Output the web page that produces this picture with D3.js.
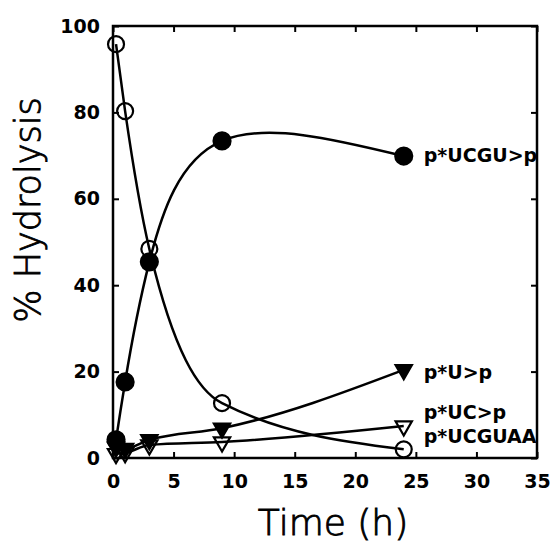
<!DOCTYPE html>
<html><head><meta charset="utf-8">
<script src="https://cdn.jsdelivr.net/npm/d3@7"></script>
<style>body{margin:0;background:#fff}</style>
</head><body>
<svg id="c" width="550" height="542"></svg>
<script>
// ---- data ----
const times = [0.25, 1, 3, 9, 24];
const ucguP   = [4.2, 17.6, 45.4, 73.4, 69.9];   // filled circles  p*UCGU>p
const ucguaa  = [95.8, 80.3, 48.4, 12.7, 2.0];   // open circles    p*UCGUAA
const uP      = [2.5, 2.2, 4.2, 6.9, 20.4];      // filled triangles p*U>p
const ucP     = [1.0, 1.2, 3.0, 3.7, 7.4];       // open triangles  p*UC>p
const xTicks = [0, 5, 10, 15, 20, 25, 30, 35];
const yTicks = [0, 20, 40, 60, 80, 100];
const labels = ["p*UCGU>p", "p*U>p", "p*UC>p", "p*UCGUAA"];
const labelY = [70, 19.9, 10.6, 4.9];

const svg = d3.select("#c");
const x = d3.scaleLinear().domain([0, 35]).range([113, 537]);
const y = d3.scaleLinear().domain([0, 100]).range([458, 26]);

const font = "'DejaVu Sans', sans-serif";

// axes
const gB = svg.append("g").attr("transform", `translate(0,${y(0)})`)
  .call(d3.axisBottom(x).tickValues(xTicks).tickSizeInner(-6).tickSizeOuter(0).tickPadding(17));
const gL = svg.append("g").attr("transform", `translate(${x(0)},0)`)
  .call(d3.axisLeft(y).tickValues(yTicks).tickSizeInner(-6).tickSizeOuter(0).tickPadding(13));
const gT = svg.append("g").attr("transform", `translate(0,${y(100)})`)
  .call(d3.axisTop(x).tickValues(xTicks).tickSizeInner(-6).tickSizeOuter(0).tickFormat(""));
const gR = svg.append("g").attr("transform", `translate(${x(35)},0)`)
  .call(d3.axisRight(y).tickValues(yTicks).tickSizeInner(-6).tickSizeOuter(0).tickFormat(""));
[gB, gL, gT, gR].forEach(g => {
  g.select(".domain").remove();
  g.selectAll(".tick line").attr("stroke", "#000").attr("stroke-width", 2);
  g.selectAll("text").attr("fill", "#000").attr("font-family", font)
    .attr("font-size", 19).attr("font-weight", "bold");
});

// frame
svg.append("rect").attr("x", x(0)).attr("y", y(100))
  .attr("width", x(35) - x(0)).attr("height", y(0) - y(100))
  .attr("fill", "none").attr("stroke", "#000").attr("stroke-width", 2.5);

// lines
const mk = (vals, curve) => d3.line().x((d, i) => x(times[i])).y(d => y(d)).curve(curve)(vals);
const series = [
  {v: ucguP, curve: d3.curveNatural, m: "fc"},
  {v: ucguaa, curve: d3.curveMonotoneX, m: "oc"},
  {v: uP, curve: d3.curveMonotoneX, m: "ft"},
  {v: ucP, curve: d3.curveMonotoneX, m: "ot"}
];
series.forEach(s => {
  svg.append("path").attr("d", mk(s.v, s.curve)).attr("fill", "none")
    .attr("stroke", "#000").attr("stroke-width", 2.5);
});
// markers
const tri = d3.symbol(d3.symbolTriangle, 115);
series.forEach(s => {
  const g = svg.append("g");
  s.v.forEach((d, i) => {
    const cx = x(times[i]), cy = y(d);
    if (s.m === "fc" || s.m === "oc") {
      g.append("circle").attr("cx", cx).attr("cy", cy).attr("r", s.m === "fc" ? 8.5 : 8)
        .attr("fill", s.m === "fc" ? "#000" : "none").attr("stroke", "#000").attr("stroke-width", 2.2);
    } else {
      g.append("path").attr("d", tri()).attr("transform", `translate(${cx},${cy}) rotate(180)`)
        .attr("fill", s.m === "ft" ? "#000" : "none").attr("stroke", "#000").attr("stroke-width", 2.2);
    }
  });
});

// series labels
labels.forEach((t, i) => {
  svg.append("text").attr("x", x(24) + 20).attr("y", y(labelY[i])).attr("dy", "0.35em")
    .attr("font-family", font).attr("font-size", 19).attr("font-weight", "bold").text(t);
});

// axis titles
svg.append("text").attr("x", (x(0) + x(35)) / 2 + 8).attr("y", 535).attr("text-anchor", "middle")
  .attr("font-family", font).attr("font-weight", 200).attr("font-size", 36)
  .attr("fill", "#000").attr("stroke", "#000").attr("stroke-width", 0.9).text("Time (h)");
svg.append("text").attr("transform", "translate(40,210) rotate(-90)").attr("text-anchor", "middle")
  .attr("font-family", font).attr("font-weight", 200).attr("font-size", 35)
  .attr("fill", "#000").attr("stroke", "#000").attr("stroke-width", 0.9).text("% Hydrolysis");
</script>
</body></html>
